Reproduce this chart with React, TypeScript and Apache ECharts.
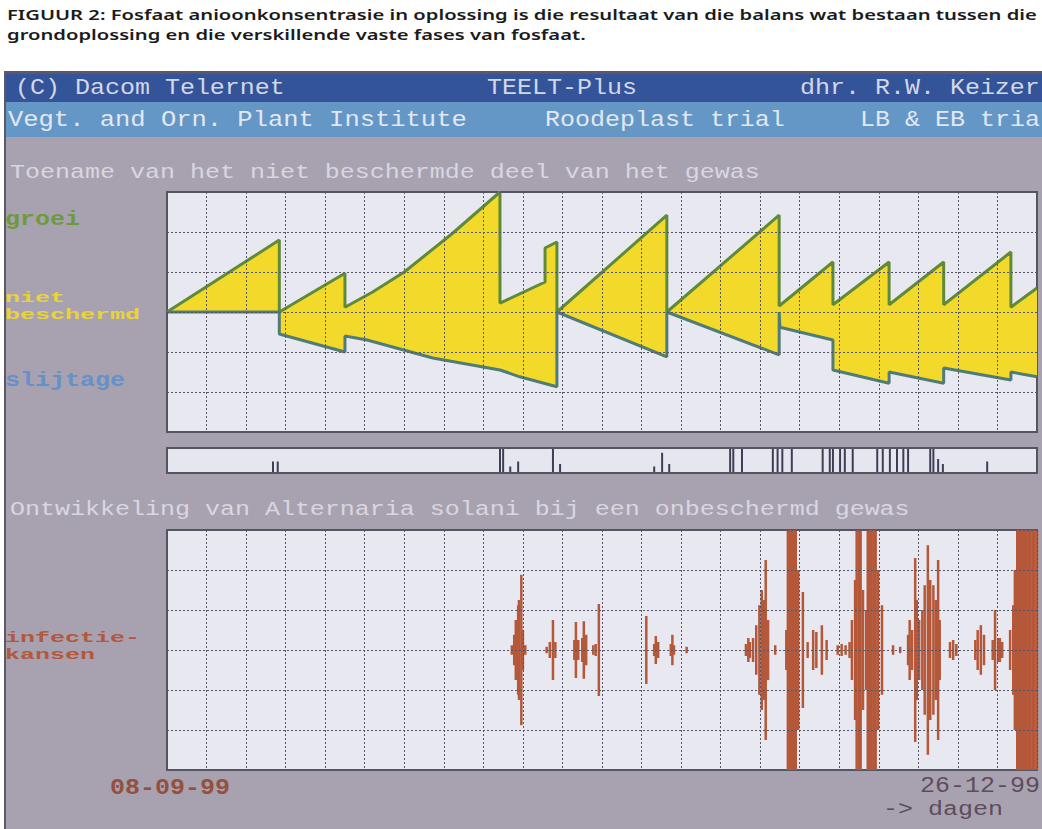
import React, { useEffect, useRef } from "react";
import * as echarts from "echarts";

// ---------- DATA ----------
// x = days since 08-09-99 (0 .. 110), y in grid units
const groeiDays = [0, 14.2, 14.2, 22.5, 22.5, 26, 30, 36, 42.1, 42.1, 47.8, 47.8, 49.3, 49.3, 63.2, 63.2, 77.4, 77.4, 84.2, 84.2, 91.3, 91.3, 98.2, 98.2, 106.7, 106.7, 110];
const groeiValues = [0, 1.8, 0, 0.97, 0.12, 0.5, 1.0, 1.95, 3.0, 0.22, 0.75, 1.6, 1.75, 0, 2.42, 0, 2.42, 0.15, 1.25, 0.18, 1.25, 0.18, 1.25, 0.18, 1.5, 0.12, 0.6];

const slijtageDays = [0, 14.2, 14.2, 22.5, 22.5, 25.3, 33.6, 42.1, 44.6, 49.3, 49.3, 63.2, 63.2, 77.4, 77.4, 77.5, 84.2, 84.2, 91.3, 91.3, 98.2, 98.2, 106.7, 106.7, 110];
const slijtageValues = [0, 0, -0.55, -1.0, -0.6, -0.7, -1.15, -1.45, -1.62, -1.87, 0, -1.12, 0, -1.07, 0, -0.38, -0.7, -1.45, -1.78, -1.5, -1.78, -1.4, -1.7, -1.5, -1.62];

const sprayDays = [13.4, 14.0, 42.1, 42.5, 43.4, 44.4, 48.8, 49.7, 61.6, 62.6, 63.5, 71.2, 71.6, 72.7, 76.6, 77.2, 77.8, 79.0, 82.9, 83.8, 84.2, 85.1, 85.7, 86.7, 89.8, 90.5, 91.4, 92.3, 93.1, 93.7, 96.5, 96.9, 97.5, 98.1, 103.7];
const sprayHeights = [0.5, 0.5, 1, 1, 0.3, 0.5, 1, 0.4, 0.3, 0.85, 0.4, 1, 1, 1, 1, 1, 1, 1, 1, 1, 1, 1, 1, 1, 1, 1, 1, 1, 1, 1, 1, 1, 0.6, 0.4, 0.5];

const infectDays = [
  43.6, 43.9, 44.1, 44.4, 44.5, 44.8, 45.0, 45.3,
  48.0, 48.4, 48.8, 49.1,
  51.5, 51.7, 52.0, 52.5, 52.7, 53.0, 53.9, 54.2, 54.6,
  60.6, 61.6, 61.8, 62.1, 63.7, 63.9, 64.1, 65.7,
  73.2, 73.5, 73.7, 74.1, 74.5, 74.9, 75.2, 75.5, 75.7, 76.0, 76.9,
  78.3, 78.5, 78.8, 79.0, 79.3, 79.5, 79.8, 80.4,
  81.0, 81.7, 82.1, 82.8, 83.4, 84.8, 85.3, 85.8, 86.3,
  86.6, 87.0, 87.2, 87.5, 87.7, 88.0, 88.4, 88.6, 88.9, 89.1, 89.4, 89.6, 89.9, 90.4,
  91.8, 92.7, 93.7, 93.9, 94.2, 94.6, 94.8, 95.1,
  95.5, 95.8, 96.2, 96.5, 96.9, 97.2, 97.5, 97.7,
  99.0, 99.4, 99.8, 102.2, 102.5, 102.9, 103.3,
  104.4, 104.7, 105.1, 105.3, 105.6,
  106.6, 107.0, 107.2, 107.5, 107.7, 108.0, 108.2, 108.5, 108.7, 109.0, 109.2, 109.5, 109.7, 110
];
const infectAmps = [
  0.12, 0.38, 0.75, 1.12, 1.25, 1.88, 0.5, 0.12,
  0.08, 0.2, 0.75, 0.2,
  0.25, 0.7, 0.25, 0.3, 0.72, 0.38, 0.12, 0.15, 1.15,
  0.85, 0.15, 0.35, 0.2, 0.15, 0.38, 0.12, 0.08,
  0.15, 0.3, 0.2, 0.3, 0.62, 1.12, 1.5, 1.25, 2.25, 0.75, 0.12,
  0.5, 3, 3, 3, 3, 3, 2, 1.45,
  0.2, 0.5, 0.45, 0.62, 0.25, 0.12, 0.15, 0.12, 0.2,
  0.75, 1.75, 3, 3, 3, 1.5, 1.0, 3, 3, 3, 3, 3, 2, 1.12,
  0.12, 0.08, 0.38, 0.75, 0.5, 2.3, 1.25, 0.75,
  1.0, 1.62, 2.62, 1.75, 1.62, 1.25, 2.25, 0.75,
  0.2, 0.25, 0.15, 0.25, 0.5, 0.62, 0.38,
  0.25, 1.0, 0.3, 0.3, 0.2,
  0.5, 1.12, 2, 3, 3, 3, 3, 3, 3, 3, 3, 3, 3, 3
];

const captionLines = [
  "FIGUUR 2: Fosfaat anioonkonsentrasie in oplossing is die resultaat van die balans wat bestaan tussen die",
  "grondoplossing en die verskillende vaste fases van fosfaat."
];
const headerRow1 = ["(C) Dacom Telernet", "TEELT-Plus", "dhr. R.W. Keizer"];
const headerRow2 = ["Vegt. and Orn. Plant Institute", "Roodeplast trial", "LB & EB tria"];
const titleTop = "Toename van het niet beschermde deel van het gewas";
const titleBottom = "Ontwikkeling van Alternaria solani bij een onbeschermd gewas";
const labelGroei = "groei";
const labelNiet = ["niet", "beschermd"];
const labelSlijtage = "slijtage";
const labelInfectie = ["infectie-", "kansen"];
const dateStart = "08-09-99";
const dateEnd = "26-12-99";
const unitLabel = "-> dagen";

// ---------- helpers ----------
const MONO = "Liberation Mono";
let ctx: CanvasRenderingContext2D | null = null;
function measure(text: string, size: number, family: string, weight: string) {
  if (!ctx) ctx = document.createElement("canvas").getContext("2d");
  ctx!.font = `${weight} ${size}px "${family}"`;
  return ctx!.measureText(text).width || 1;
}
function txt(text: string, x: number, y: number, opts: any) {
  const size = opts.size || 20;
  const family = opts.family || MONO;
  const weight = opts.weight || "normal";
  const scaleX = opts.scaleX != null ? opts.scaleX : opts.width ? opts.width / measure(text, size, family, weight) : 1;
  return {
    type: "text",
    x,
    y,
    scaleX,
    scaleY: opts.scaleY || 1,
    z: 10,
    silent: true,
    style: {
      text,
      fill: opts.color,
      fontSize: size,
      fontFamily: family,
      fontWeight: weight,
      textAlign: "left",
      align: "left",
      textVerticalAlign: "middle",
      verticalAlign: "middle",
      opacity: opts.opacity == null ? 1 : opts.opacity
    }
  };
}

const CELL = 15;

export default function App() {
  const ref = useRef<HTMLDivElement>(null);
  useEffect(() => {
    document.body.style.margin = "0";
    const chart = echarts.init(ref.current!, null, { renderer: "svg" });

    const upper = groeiDays.map((d, i) => [d, groeiValues[i]]);
    const lower = slijtageDays.map((d, i) => [d, slijtageValues[i]]);
    const spray = sprayDays.map((d, i) => [d, sprayHeights[i]]);
    const infect = infectDays.map((d, i) => [d, infectAmps[i]]);

    const gridLine = { show: true, lineStyle: { color: "#555566", type: [2, 2], width: 1 } };
    const xAx = (gi: number, split: boolean) => ({
      type: "value", gridIndex: gi, min: 0, max: 110, interval: 5, z: 5,
      axisLine: { show: false }, axisTick: { show: false }, axisLabel: { show: false },
      splitLine: split ? gridLine : { show: false }
    });
    const yAx = (gi: number, min: number, max: number, split: boolean) => ({
      type: "value", gridIndex: gi, min, max, interval: 1, z: 5,
      axisLine: { show: false }, axisTick: { show: false }, axisLabel: { show: false },
      splitLine: split ? gridLine : { show: false }
    });

    const capScale = 1031 / measure(captionLines[0], 14, "Noto Sans", "600");

    const graphics: any[] = [
      { type: "rect", shape: { x: 0, y: 0, width: 1042, height: 71 }, style: { fill: "#ffffff" }, silent: true },
      { type: "rect", shape: { x: 0, y: 71, width: 5, height: 758 }, style: { fill: "#ffffff" }, silent: true },
      { type: "rect", shape: { x: 4, y: 71, width: 1038, height: 3 }, style: { fill: "#5c5866" }, silent: true },
      { type: "rect", shape: { x: 4, y: 71, width: 2, height: 758 }, style: { fill: "#5c5866" }, silent: true },
      { type: "rect", shape: { x: 6, y: 74, width: 1036, height: 28 }, style: { fill: "#34549a" }, silent: true },
      { type: "rect", shape: { x: 6, y: 102, width: 1036, height: 35 }, style: { fill: "#6497c6" }, silent: true },
      txt(captionLines[0], 7, 14, { size: 14, family: "Noto Sans", weight: "600", color: "#1b1b1b", scaleX: capScale }),
      txt(captionLines[1], 7, 34, { size: 14, family: "Noto Sans", weight: "600", color: "#1b1b1b", scaleX: capScale }),
      txt(headerRow1[0], 15, 88, { size: 22, color: "#d3d7e8", width: headerRow1[0].length * CELL }),
      txt(headerRow1[1], 487, 88, { size: 22, color: "#d3d7e8", width: headerRow1[1].length * CELL }),
      txt(headerRow1[2], 800, 88, { size: 22, color: "#d3d7e8", width: headerRow1[2].length * CELL }),
      txt(headerRow2[0], 8, 120, { size: 22, color: "#e2e8f2", width: headerRow2[0].length * 15.3 }),
      txt(headerRow2[1], 545, 120, { size: 22, color: "#e2e8f2", width: headerRow2[1].length * CELL }),
      txt(headerRow2[2], 860, 120, { size: 22, color: "#e2e8f2", width: headerRow2[2].length * CELL }),
      txt(titleTop, 10, 173, { size: 20, color: "#dad6e0", width: titleTop.length * CELL }),
      txt(titleBottom, 10, 510, { size: 20, color: "#dad6e0", width: titleBottom.length * CELL }),
      txt(labelGroei, 5, 220, { size: 20, weight: "bold", color: "#6f9a3c", width: labelGroei.length * CELL }),
      txt(labelNiet[0], 5, 298, { size: 15, weight: "bold", color: "#e8d438", width: labelNiet[0].length * CELL }),
      txt(labelNiet[1], 5, 315, { size: 15, weight: "bold", color: "#e8d438", width: labelNiet[1].length * CELL }),
      txt(labelSlijtage, 5, 381, { size: 20, weight: "bold", color: "#6690c8", width: labelSlijtage.length * CELL }),
      txt(labelInfectie[0], 5, 638, { size: 15, weight: "bold", color: "#b3583c", width: labelInfectie[0].length * CELL }),
      txt(labelInfectie[1], 5, 655, { size: 15, weight: "bold", color: "#b3583c", width: labelInfectie[1].length * CELL }),
      txt(dateStart, 110, 788, { size: 22, weight: "bold", color: "#94503e", width: dateStart.length * CELL }),
      txt(dateEnd, 920, 786, { size: 22, color: "#5e4c5c", width: dateEnd.length * CELL }),
      txt(unitLabel, 883, 810, { size: 20, color: "#5e4c5c", width: unitLabel.length * CELL })
    ];

    const option: any = {
      animation: false,
      backgroundColor: "#a8a2b0",
      grid: [
        { left: 167, top: 192, width: 870, height: 240, show: true, backgroundColor: "#e8e8f0", borderColor: "#555560", borderWidth: 2 },
        { left: 167, top: 448, width: 870, height: 25, show: true, backgroundColor: "#e6e6ee", borderColor: "#555560", borderWidth: 2 },
        { left: 167, top: 530, width: 870, height: 240, show: true, backgroundColor: "#e8e8f0", borderColor: "#555560", borderWidth: 2 }
      ],
      xAxis: [xAx(0, true), xAx(1, false), xAx(2, true)],
      yAxis: [yAx(0, -3, 3, true), yAx(1, 0, 1, false), yAx(2, -3, 3, true)],
      graphic: { elements: graphics },
      series: [
        {
          name: "groei", type: "line", xAxisIndex: 0, yAxisIndex: 0, data: upper, symbol: "none",
          lineStyle: { color: "#5e8a3a", width: 3 }, areaStyle: { color: "#f3da2a", opacity: 1 }, z: 2
        },
        {
          name: "slijtage", type: "line", xAxisIndex: 0, yAxisIndex: 0, data: lower, symbol: "none",
          lineStyle: { color: "#4f7c78", width: 3 }, areaStyle: { color: "#f3da2a", opacity: 1 }, z: 2
        },
        {
          name: "bespuitingen", type: "custom", xAxisIndex: 1, yAxisIndex: 1, data: spray, z: 2,
          renderItem: (params: any, api: any) => {
            const top = api.coord([api.value(0), api.value(1)]);
            const bot = api.coord([api.value(0), 0]);
            return { type: "rect", shape: { x: top[0] - 1, y: top[1] + 1, width: 2, height: bot[1] - top[1] - 2 }, style: { fill: "#3e3e58" } };
          }
        },
        {
          name: "infectiekansen", type: "custom", xAxisIndex: 2, yAxisIndex: 2, data: infect, z: 2,
          renderItem: (params: any, api: any) => {
            const top = api.coord([api.value(0), api.value(1)]);
            const bot = api.coord([api.value(0), -api.value(1)]);
            return { type: "rect", shape: { x: top[0] - 1.25, y: top[1], width: 2.5, height: bot[1] - top[1] }, style: { fill: "#b5583a" } };
          }
        }
      ]
    };
    chart.setOption(option);
    return () => chart.dispose();
  }, []);
  return <div ref={ref} style={{ width: 1042, height: 829 }} />;
}
